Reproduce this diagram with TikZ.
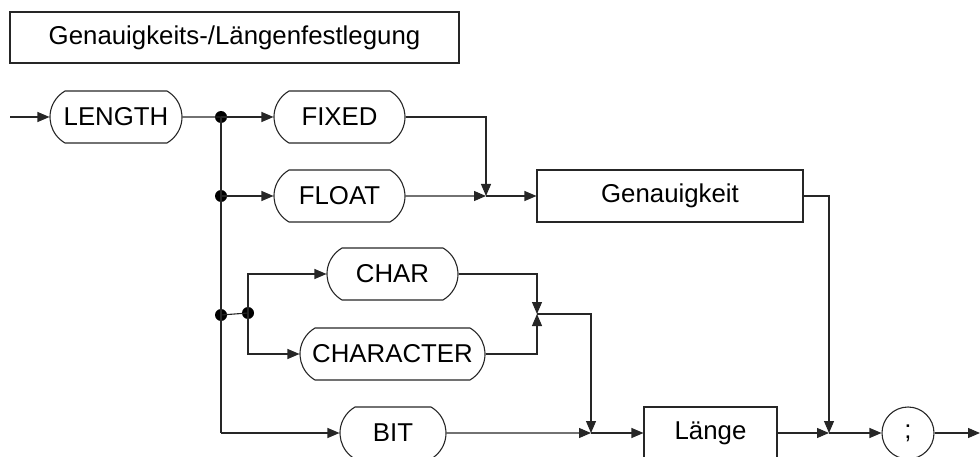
\documentclass[tikz,border=0pt]{standalone}
\usepackage{fontspec}
\setmainfont{Liberation Sans}
\usetikzlibrary{arrows.meta,shapes.misc}
\begin{document}
\begin{tikzpicture}[x=1pt,y=-1pt,
  every node/.style={font=\fontsize{25.8}{30}\selectfont, inner sep=0pt},
  line/.style={draw=black!85, line width=1.1pt},
  flow/.style={line, -{Triangle[length=12pt,width=10pt]}},
  keyword/.style={line, rounded rectangle, rounded rectangle arc length=120, minimum height=52pt},
  stepbox/.style={line, rectangle, minimum height=52pt},
  term/.style={line, circle, minimum size=52pt},
  dot/.style={circle, fill=black, minimum size=12pt}]
\useasboundingbox (0,0) rectangle (980,457);

% heading
\node[stepbox, minimum width=449pt, minimum height=51pt] (title) at (234.5,37.5) {Genauigkeits-/Längenfestlegung};

% syntax elements
\coordinate (start) at (10,117);
\node[keyword, minimum width=132pt] (length) at (116,117) {LENGTH};
\node[keyword, minimum width=131pt] (fixed) at (339.5,117) {FIXED};
\node[keyword, minimum width=131pt] (float) at (339.5,196) {FLOAT};
\node[stepbox, minimum width=266pt] (gen) at (670,196) {Genauigkeit};
\node[keyword, minimum width=131pt] (char) at (392.5,274) {CHAR};
\node[keyword, minimum width=185pt] (character) at (392.5,354) {CHARACTER};
\node[keyword, minimum width=106pt] (bit) at (393,433) {BIT};
\node[stepbox, minimum width=133pt] (laenge) at (710.5,433) {Länge};
\node[term] (semi) at (908,433) {;};
\coordinate (end) at (980,433);

% branch points
\node[dot] (d1) at (221,117) {};
\node[dot] (d2) at (221,196) {};
\node[dot] (d3) at (221,315) {};
\node[dot] (d4) at (248,313) {};
\coordinate (d5) at (221,433);

% merge points
\coordinate (j1) at (486,196);
\coordinate (j2) at (537,314);
\coordinate (j3) at (591,433);
\coordinate (j4) at (829,433);

% connectors
\draw[flow] (start) -- (length);
\draw[line] (length) -- (d1.center);
\draw[flow] (d1.center) -- (fixed);
\draw[flow] (d2.center) -- (float);
\draw[line] (d1.center) -- (d5);
\draw[flow] (d5) -- (bit);
\draw[line] (d3.center) -- (d4.center);
\draw[flow] (d4.center) |- (char);
\draw[flow] (d4.center) |- (character);

\draw[flow] (fixed) -| (j1);
\draw[flow] (float) -- (j1);
\draw[flow] (j1) -- (gen);
\draw[flow] (gen) -| (j4);

\draw[flow] (char) -| (j2);
\draw[flow] (character) -| (j2);
\draw[flow] (j2) -| (j3);
\draw[flow] (bit) -- (j3);
\draw[flow] (j3) -- (laenge);
\draw[flow] (laenge) -- (j4);
\draw[flow] (j4) -- (semi);
\draw[flow] (semi) -- (end);
\end{tikzpicture}
\end{document}
